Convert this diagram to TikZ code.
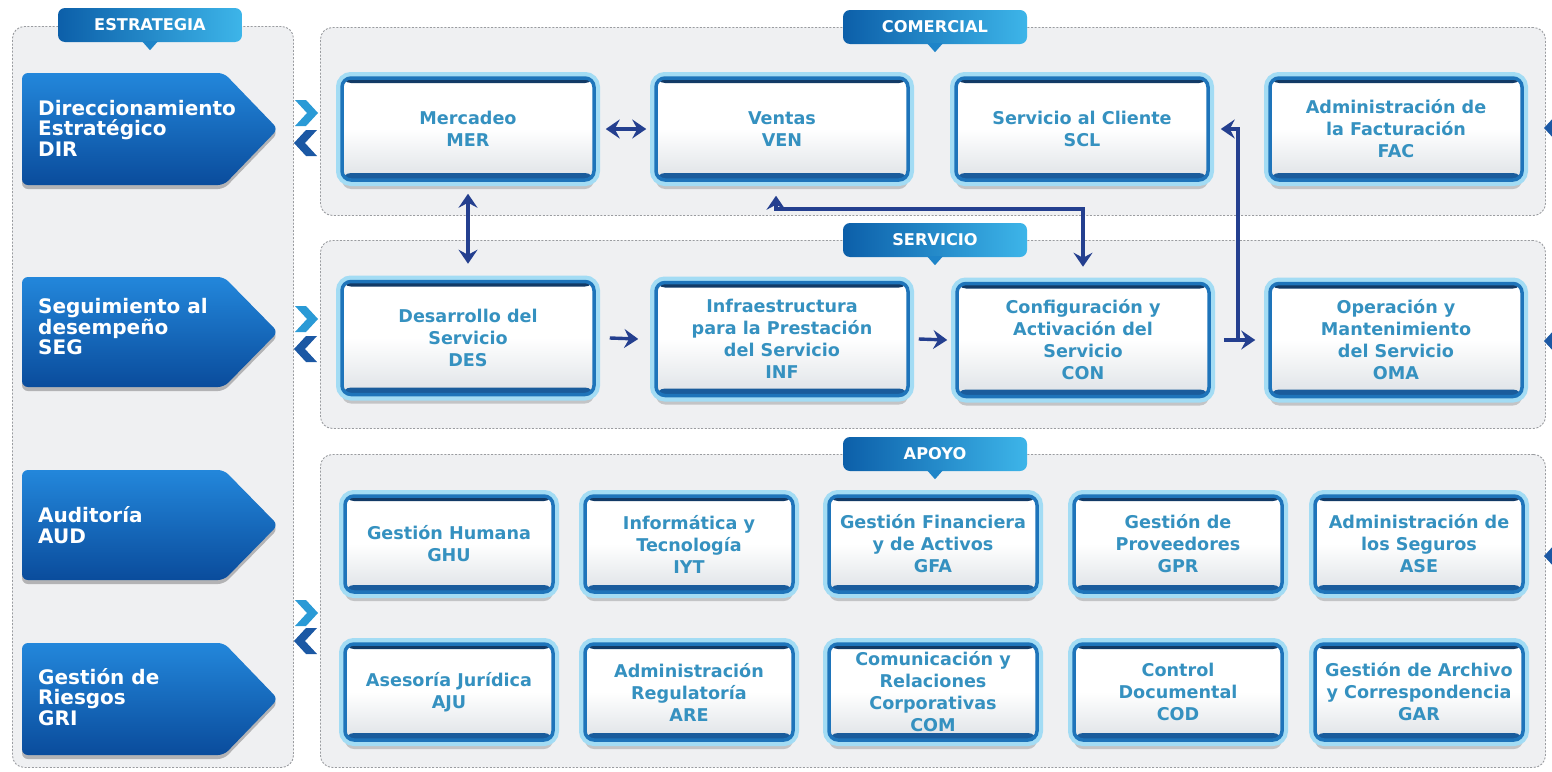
\documentclass[tikz,border=0pt]{standalone}
\usepackage{fontspec}
\setmainfont{DejaVu Sans}
\usetikzlibrary{arrows.meta,shadows,calc}
\definecolor{panelbg}{HTML}{EFF0F2}
\definecolor{dashc}{HTML}{9A9CA0}
\definecolor{txtc}{HTML}{3591C0}
\definecolor{connc}{HTML}{243F8F}
\definecolor{bordc}{HTML}{1E74BA}
\definecolor{topdark}{HTML}{123A66}
\definecolor{botband}{HTML}{1A5C9C}
\definecolor{glowc}{HTML}{A3DCF4}
\definecolor{boxbot}{HTML}{DEE2E6}
\definecolor{stratTop}{HTML}{2387DB}
\definecolor{stratBot}{HTML}{0A4C9C}
\definecolor{tabL}{HTML}{0C5FA9}
\definecolor{tabR}{HTML}{3DB5E9}
\definecolor{tabM}{HTML}{1E84C8}
\definecolor{chevLt}{HTML}{2A9AD6}
\definecolor{chevDk}{HTML}{1B58A4}
\newcommand\boxfont{\fontsize{17.6}{22}\selectfont\bfseries}
\newcommand\stratfont{\fontsize{20}{20.5}\selectfont\bfseries}
\newcommand\tabfont{\fontsize{16.2}{18}\selectfont\bfseries}
\newcommand\chevRight[3]{\fill[#3] ({#1-11},{#2-13}) -- ({#1},{#2-13}) -- ({#1+12},{#2}) -- ({#1},{#2+13}) -- ({#1-11},{#2+13}) -- ({#1+1},{#2}) -- cycle;}
\newcommand\chevLeft[3]{\fill[#3] ({#1+11},{#2-13}) -- ({#1},{#2-13}) -- ({#1-12},{#2}) -- ({#1},{#2+13}) -- ({#1+11},{#2+13}) -- ({#1-1},{#2}) -- cycle;}
\newcommand\stratshape[2]{\path[top color=stratTop, bottom color=stratBot, rounded corners=6pt,
  drop shadow={shadow xshift=0pt, shadow yshift=-4pt, opacity=0.25, fill=black}]
  (22,#1) -- (224,#1) -- (278,{(#1+#2)/2}) -- (224,#2) -- (22,#2) -- cycle;}
\tikzset{
 panel/.style={draw=dashc, line width=0.9pt, dash pattern=on 2pt off 1.6pt, fill=panelbg,
   rounded corners=12pt, inner sep=0pt, anchor=north west},
 tabbox/.style={rounded corners=7pt, left color=tabL, right color=tabR, minimum width=184pt,
   minimum height=34pt, inner sep=0pt, text=white, font=\tabfont},
 proc/.style={rounded corners=9pt, minimum width=252pt, minimum height=102pt, inner sep=0pt,
   align=center, text=txtc, font=\boxfont,
   top color=white, bottom color=boxbot, middle color=white,
   draw=bordc, line width=3.5pt,
   drop shadow={shadow xshift=0pt, shadow yshift=-9pt, opacity=0.18, fill=black},
   preaction={draw=glowc, line width=12pt},
   path picture={\fill[topdark] (path picture bounding box.north west) rectangle ([yshift=-5pt]path picture bounding box.north east);
     \fill[botband] ([yshift=7pt]path picture bounding box.south west) rectangle (path picture bounding box.south east);}},
 small/.style={proc, minimum width=208pt, minimum height=96pt},
 strattext/.style={text=white, font=\stratfont, align=left, inner sep=0pt, anchor=west},
 conn/.style={draw=connc, line width=3.4pt},
 >={Stealth[length=14pt,width=19pt,inset=5pt]}
}
\begin{document}
\begin{tikzpicture}[x=1pt,y=-1pt]
\clip (0,0) rectangle (1552,771);
\fill[white] (0,0) rectangle (1552,771);
% panels
\node[panel, minimum width=281pt, minimum height=741pt] (pestr) at (12,26) {};
\node[panel, minimum width=1225pt, minimum height=188pt] (pcom) at (320,27) {};
\node[panel, minimum width=1225pt, minimum height=188pt] (pser) at (320,240) {};
\node[panel, minimum width=1225pt, minimum height=313pt] (papo) at (320,454) {};
% tabs
\foreach \n/\x/\y/\t in {testr/150/25/ESTRATEGIA, tcom/935/27/COMERCIAL, tser/935/240/SERVICIO, tapo/935/454/APOYO}{
  \node[tabbox] (\n) at (\x,\y) {\t};
  \fill[tabM] ([xshift=-8pt,yshift=1pt]\n.south) -- ([yshift=-8pt]\n.south) -- ([xshift=8pt,yshift=1pt]\n.south) -- cycle;
}
% strategy arrows
\stratshape{73}{185}
\node[strattext] (dir) at (38,128) {Direccionamiento\\Estratégico\\DIR};
\stratshape{277}{387}
\node[strattext] (seg) at (38,327) {Seguimiento al\\desempeño\\SEG};
\stratshape{470}{580}
\node[strattext] (aud) at (38,525) {Auditoría\\AUD};
\stratshape{643}{755}
\node[strattext] (gri) at (38,697) {Gestión de\\Riesgos\\GRI};
% chevrons
\chevRight{306}{113}{chevLt}
\chevLeft{306}{143}{chevDk}
\chevRight{306}{319}{chevLt}
\chevLeft{306}{349}{chevDk}
\chevRight{306}{613}{chevLt}
\chevLeft{306}{641}{chevDk}
\chevLeft{1556}{128}{chevDk}
\chevLeft{1556}{341}{chevDk}
\chevLeft{1556}{556}{chevDk}
% comercial
\node[proc] (mer) at (468,129) {Mercadeo\\MER};
\node[proc] (ven) at (782,129) {Ventas\\VEN};
\node[proc] (scl) at (1082,129) {Servicio al Cliente\\SCL};
\node[proc] (fac) at (1396,129) {Administración de\\la Facturación\\FAC};
% servicio
\node[proc, minimum height=113pt] (des) at (468,338) {Desarrollo del\\Servicio\\DES};
\node[proc, minimum height=113pt] (inf) at (782,339) {Infraestructura\\para la Prestación\\del Servicio\\INF};
\node[proc, minimum height=113pt] (con) at (1083,340) {Configuración y\\Activación del\\Servicio\\CON};
\node[proc, minimum height=113pt] (oma) at (1396,340) {Operación y\\Mantenimiento\\del Servicio\\OMA};
% apoyo
\node[small] (ghu) at (449,544) {Gestión Humana\\GHU};
\node[small] (iyt) at (689,544) {Informática y\\Tecnología\\IYT};
\node[small] (gfa) at (933,544) {Gestión Financiera\\y de Activos\\GFA};
\node[small] (gpr) at (1178,544) {Gestión de\\Proveedores\\GPR};
\node[small] (ase) at (1419,544) {Administración de\\los Seguros\\ASE};
\node[small] (aju) at (449,692) {Asesoría Jurídica\\AJU};
\node[small] (are) at (689,692) {Administración\\Regulatoría\\ARE};
\node[small] (com) at (933,692) {Comunicación y\\Relaciones\\Corporativas\\COM};
\node[small] (cod) at (1178,692) {Control\\Documental\\COD};
\node[small] (gar) at (1419,692) {Gestión de Archivo\\y Correspondencia\\GAR};
% connectors
\draw[conn,<->] ([xshift=10pt]mer.east) -- ([xshift=-8pt]ven.west);
\draw[conn,<->] ([yshift=-12pt]mer.south) -- ([yshift=16pt]des.north);
\draw[conn,->] ([xshift=14pt]des.east) -- ([xshift=-16pt]inf.west);
\draw[conn,->] ([xshift=9pt]inf.east) -- ([xshift=-8pt]con.west);
\draw[conn,->] ([xshift=13pt]con.east) -- ([xshift=-13pt]oma.west);
\coordinate (jn) at (1238,340);
\draw[conn,->] (jn) |- ([xshift=11pt]scl.east);
\coordinate (vtop) at ($(ven.south)+(-6,14)$);
\coordinate (vc) at (776,209);
\draw[conn,<->] (vtop) -- (vc) -| ($(con.north)+(0,-15)$);
\end{tikzpicture}
\end{document}
